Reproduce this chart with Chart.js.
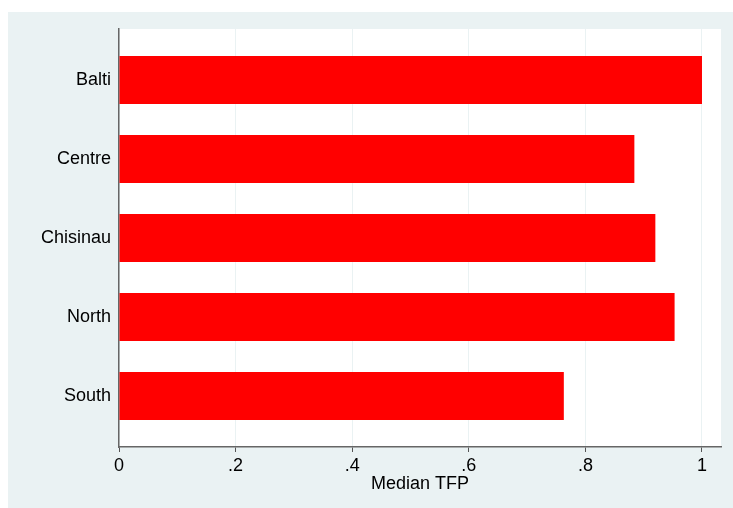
<!DOCTYPE html>
<html>
<head>
<meta charset="utf-8">
<script src="https://cdn.jsdelivr.net/npm/chart.js@4/dist/chart.umd.min.js"></script>
<style>
  html, body { margin: 0; padding: 0; background: #ffffff; }
  #wrap { width: 733px; height: 508px; }
</style>
</head>
<body>
<div id="wrap"><canvas id="c" width="733" height="508"></canvas></div>
<script>
const categories = ["Balti", "Centre", "Chisinau", "North", "South"];
const medianTFP = [1.0, 0.884, 0.920, 0.953, 0.763];
const xTickValues = [0, 0.2, 0.4, 0.6, 0.8, 1];
const xTickLabels = ["0", ".2", ".4", ".6", ".8", "1"];
const xAxisTitle = "Median TFP";

const FONT = "'Liberation Sans', Arial, Helvetica, sans-serif";

const panelBg = {
  id: 'panelBg',
  beforeDraw(chart) {
    const ctx = chart.ctx;
    const a = chart.chartArea;
    ctx.save();
    ctx.fillStyle = '#ffffff';
    ctx.fillRect(0, 0, chart.width, chart.height);
    ctx.fillStyle = '#EAF2F3';
    ctx.fillRect(8, 12, chart.width - 8, chart.height - 12);
    ctx.fillStyle = '#ffffff';
    ctx.fillRect(a.left, a.top, a.right - a.left, a.bottom - a.top);
    ctx.restore();
  }
};

new Chart(document.getElementById('c'), {
  type: 'bar',
  data: {
    datasets: [{
      label: xAxisTitle,
      data: medianTFP.map((v, i) => ({ x: v, y: i })),
      backgroundColor: '#FF0000',
      borderWidth: 0,
      barPercentage: 0.608,
      categoryPercentage: 1.0
    }]
  },
  options: {
    indexAxis: 'y',
    responsive: false,
    animation: false,
    layout: { padding: { left: 0, right: 12, top: 29, bottom: 0 } },
    plugins: {
      legend: { display: false },
      tooltip: { enabled: false }
    },
    scales: {
      x: {
        type: 'linear',
        min: 0,
        max: 1.0326,
        offset: false,
        afterBuildTicks(scale) { scale.ticks = xTickValues.map(v => ({ value: v })); },
        afterFit(scale) { scale.height = 61; },
        ticks: {
          color: '#000000',
          font: { family: FONT, size: 18 },
          padding: 3,
          maxRotation: 0,
          autoSkip: false,
          callback(v) { const i = xTickValues.findIndex(t => Math.abs(t - v) < 1e-9); return i >= 0 ? xTickLabels[i] : ''; }
        },
        grid: {
          color: '#EAF2F3',
          lineWidth: 1,
          tickColor: '#555555',
          tickLength: 5,
          drawOnChartArea: true,
          offset: false
        },
        border: { display: true, color: '#666666', width: 1.5 },
        title: {
          display: true,
          text: xAxisTitle,
          color: '#000000',
          font: { family: FONT, size: 18 },
          padding: { top: 0, bottom: 13 }
        }
      },
      y: {
        type: 'linear',
        reverse: true,
        offset: false,
        min: -0.6456,
        max: 4.6456,
        afterBuildTicks(scale) { scale.ticks = categories.map((_, i) => ({ value: i })); },
        afterFit(scale) { scale.width = 119; },
        ticks: {
          color: '#000000',
          font: { family: FONT, size: 18 },
          padding: 8,
          autoSkip: false,
          callback(v) { return categories[Math.round(v)] || ''; }
        },
        grid: { display: false, drawTicks: false, offset: false },
        border: { display: true, color: '#666666', width: 1.5 }
      }
    }
  },
  plugins: [panelBg]
});
</script>
</body>
</html>
